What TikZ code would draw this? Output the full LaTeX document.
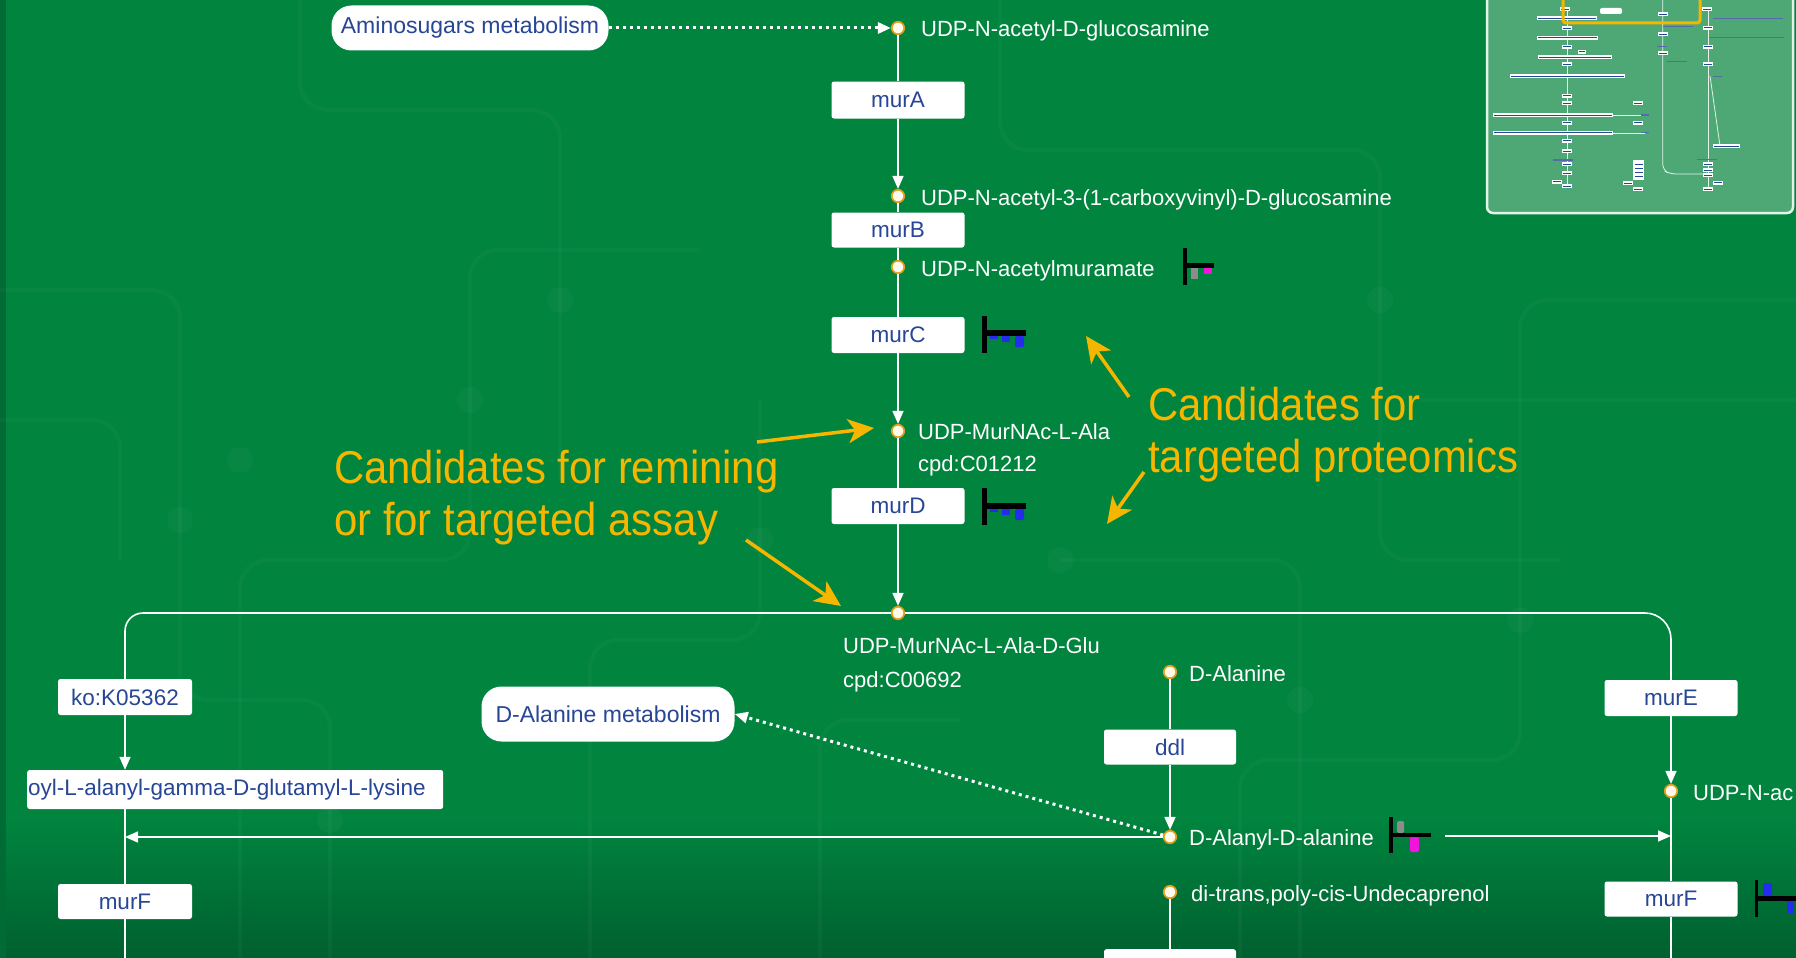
\documentclass[tikz,border=0pt]{standalone}
\usepackage{fontspec}
\setmainfont{Liberation Sans}
\newfontfamily\annfont[FakeStretch=0.91]{Liberation Sans}
\usetikzlibrary{arrows.meta}

\definecolor{bggreen}{RGB}{0,132,62}
\definecolor{bgdark}{RGB}{0,96,48}
\definecolor{labelblue}{RGB}{40,70,150}
\definecolor{annyellow}{RGB}{246,182,0}
\definecolor{dotrim}{RGB}{228,158,30}
\definecolor{dotfill}{RGB}{255,250,235}
\definecolor{thumbgreen}{RGB}{78,168,118}
\definecolor{barblue}{RGB}{35,45,235}
\definecolor{barmag}{RGB}{240,20,220}
\definecolor{bargray}{RGB}{140,140,140}

% miniature overview boxes (coordinates in overview units)
\newcommand{\minibox}[3]{%
  \fill[white] ({1480+(#1-#3/2)/3},{#2/3-2}) rectangle ({1480+(#1+#3/2)/3},{#2/3+2});
  \draw[labelblue,line width=0.9pt] ({1480+(#1-#3/2)/3+1},{#2/3}) -- ({1480+(#1+#3/2)/3-1},{#2/3});}
\newcommand{\minitext}[3]{%
  \draw[labelblue!80!white,line width=1.4pt] ({1480+(#1-#3/2)/3},{#2/3}) -- ({1480+(#1+#3/2)/3},{#2/3});}

\begin{document}
\begin{tikzpicture}[x=1pt,y=-1pt,
  genebox/.style={fill=white, rounded corners=2.5pt, minimum width=133pt,
    minimum height=36pt, inner sep=0pt, text=labelblue,
    font=\fontsize{22.5}{26}\selectfont},
  mapbox/.style={fill=white, rounded corners=20pt, inner sep=0pt,
    text=labelblue, font=\fontsize{23}{27}\selectfont},
  cpd/.style={circle, fill=dotfill, draw=dotrim, line width=1.7pt,
    minimum size=12.5pt, inner sep=0pt},
  cpdlabel/.style={anchor=base west, text=white, inner sep=0pt,
    font=\fontsize{22}{26}\selectfont},
  link/.style={draw=white, line width=1.6pt},
  arrowed/.style={-{Triangle[length=13pt,width=11pt]}},
  dotlink/.style={draw=white, line width=3pt, dash pattern=on 3pt off 4pt},
  ann/.style={anchor=base west, inner sep=0pt, text=annyellow,
    font=\annfont\fontsize{46}{52}\selectfont},
  annarrow/.style={draw=annyellow, line width=3.5pt,
    -{Stealth[length=26pt,width=24pt,inset=7pt]}},
  faint/.style={draw=white, opacity=0.03, line width=4pt, rounded corners=28pt}
]
\useasboundingbox (0,0) rectangle (1796,958);
\begin{scope}
\clip (0,0) rectangle (1796,958);

% ---------- background ----------
\fill[bggreen] (0,0) rectangle (1796,958);
\fill[top color=bggreen, bottom color=bgdark] (0,820) rectangle (1796,958);
\fill[bgdark!70!bggreen] (0,0) rectangle (6,958);

% faint circuit pattern
\draw[faint] (240,958) -- (240,560) -- (470,560) -- (470,250) -- (700,250);
\draw[faint] (300,0) -- (300,110) -- (560,110) -- (560,480);
\draw[faint] (0,290) -- (180,290) -- (180,700) -- (330,700) -- (330,958);
\draw[faint] (590,958) -- (590,640) -- (760,640) -- (760,400);
\draw[faint] (1000,0) -- (1000,150) -- (1380,150) -- (1380,560) -- (1560,560);
\draw[faint] (1240,958) -- (1240,760) -- (1520,760) -- (1520,300) -- (1796,300);
\draw[faint] (1060,560) -- (1300,560) -- (1300,958);
\draw[faint] (820,958) -- (820,720) -- (960,720);
\draw[faint] (0,420) -- (120,420) -- (120,560);
\draw[faint] (1420,400) -- (1796,400);
\foreach \p in {(240,460),(470,400),(560,300),(180,520),(760,540),
                (1380,300),(1520,620),(1300,700),(1060,560),(330,820)}
  \fill[white, opacity=0.03] \p circle (13pt);

% ---------- overview panel ----------
\fill[thumbgreen, rounded corners=6pt] (1487,-10) rectangle (1793,213);
\draw[white!85!thumbgreen, line width=2.5pt, rounded corners=6pt]
  (1487,-10) rectangle (1793,213);
\begin{scope}[white!85!thumbgreen, line width=0.8pt]
  \draw (1567.3,9) -- (1567.3,187);
  \draw[rounded corners=6pt] (1662.7,0) -- (1662.7,170) -- (1670,174) -- (1705,174);
  \draw (1708.3,9) -- (1708.3,190);
  \draw (1710,76) -- (1720,146);
  \draw (1567.3,115) -- (1645,115);
  \draw (1567.3,133) -- (1645,133);
\end{scope}
\minibox{255}{28}{30}   \minibox{548}{43}{30}  \minibox{680}{28}{30}
\fill[white, rounded corners=2pt] (1600,8) rectangle (1622,14);
\minibox{262}{55}{180}  \minitext{805}{55}{210}
\minibox{262}{85}{30}   \minibox{548}{103}{30} \minibox{685}{83}{30}
\minitext{595}{80}{90}
\minibox{262}{113}{185} \minitext{800}{113}{225}
\minibox{262}{140}{30}  \minibox{305}{155}{25} \minibox{548}{160}{30}
\minibox{685}{140}{30}  \minitext{545}{140}{30}
\minibox{285}{172}{220} \minibox{262}{193}{30} \minibox{685}{193}{30}
\minitext{590}{185}{60}
\minibox{262}{229}{345} \minitext{712}{229}{25}
\minibox{262}{287}{30}  \minibox{262}{310}{30} \minibox{475}{310}{30}
\minibox{220}{345}{360} \minitext{495}{345}{25}
\minibox{262}{368}{30}  \minibox{475}{368}{30}
\minibox{220}{398}{360} \minitext{495}{398}{25}
\minibox{262}{422}{30}  \minibox{262}{453}{30}
\minibox{740}{438}{80}
\minitext{250}{480}{60} \minibox{262}{493}{30} \minibox{262}{520}{30}
\minibox{230}{545}{30}  \minibox{262}{558}{30}
\fill[white] (1633.3,160) rectangle (1644,180);
\foreach \yy in {164,168,172,176} \draw[labelblue, line width=0.6pt] (1634.5,\yy) -- (1642.8,\yy);
\minibox{445}{550}{30}  \minibox{475}{568}{30}
\minitext{680}{478}{60} \minibox{685}{493}{30} \minibox{685}{510}{30}
\minibox{685}{525}{30}  \minibox{715}{548}{30} \minibox{685}{568}{30}
\draw[annyellow, line width=3pt, rounded corners=3pt] (1563,-8) rectangle (1700,23);

% ---------- pathway nodes ----------
\node[mapbox, minimum width=277pt, minimum height=45pt] (amino) at (470,28) {Aminosugars metabolism};
\node[cpd] (c1) at (898,28) {};
\node[cpdlabel] (c1l) at (921,37) {UDP-N-acetyl-D-glucosamine};
\node[genebox, minimum height=37pt] (murA) at (898,100) {murA};
\node[cpd] (c2) at (898,196) {};
\node[cpdlabel] (c2l) at (921,205) {UDP-N-acetyl-3-(1-carboxyvinyl)-D-glucosamine};
\node[genebox, minimum height=35pt] (murB) at (898,230) {murB};
\node[cpd] (c3) at (898,267) {};
\node[cpdlabel] (c3l) at (921,276) {UDP-N-acetylmuramate};
\node[genebox] (murC) at (898,335) {murC};
\node[cpd] (c4) at (898,431) {};
\node[cpdlabel] (c4l) at (918,439) {UDP-MurNAc-L-Ala};
\node[cpdlabel] (c4id) at (918,471) {cpd:C01212};
\node[genebox] (murD) at (898,506) {murD};
\node[cpd] (c5) at (898,613) {};
\node[cpdlabel] (c5l) at (843,653) {UDP-MurNAc-L-Ala-D-Glu};
\node[cpdlabel] (c5id) at (843,687) {cpd:C00692};

% left branch
\node[genebox, minimum width=134pt] (ko) at (125,697) {ko:K05362};
\node[genebox, minimum width=416pt, minimum height=39pt, anchor=west] (longbox) at (27,789.5) {};
\node[anchor=west, inner sep=0pt, text=labelblue, font=\fontsize{22.5}{26}\selectfont]
  (longtxt) at (28,789.5) {oyl-L-alanyl-gamma-D-glutamyl-L-lysine};
\node[genebox, minimum width=134pt, minimum height=35pt] (murFL) at (125,901.5) {murF};
\coordinate (leftend) at (125,970);
\coordinate (lefthit) at (125,837);

% D-alanine branch
\node[mapbox, minimum width=253pt, minimum height=55pt] (dmeta) at (608,714) {D-Alanine metabolism};
\node[cpd] (dala) at (1170,672) {};
\node[cpdlabel] (dalal) at (1189,681) {D-Alanine};
\node[genebox, minimum width=132pt, minimum height=35pt] (ddl) at (1170,747) {ddl};
\node[cpd] (dala2) at (1170,837) {};
\node[cpdlabel] (dala2l) at (1189,845) {D-Alanyl-D-alanine};
\node[cpd] (undec) at (1170,892) {};
\node[cpdlabel] (undecl) at (1191,901) {di-trans,poly-cis-Undecaprenol};
\node[genebox, minimum width=132pt, minimum height=32pt, anchor=north] (bot) at (1170,949) {};
\coordinate (rightfrom) at (1445,836);
\coordinate (righthit) at (1671,836);

% right branch
\node[genebox] (murE) at (1671,698) {murE};
\node[cpd] (c6) at (1671,791) {};
\node[cpdlabel] (c6l) at (1693,800) {UDP-N-ac};
\node[genebox, minimum height=35pt] (murFR) at (1671,899) {murF};
\coordinate (rightend) at (1671,970);

% ---------- connectors ----------
\draw[dotlink, arrowed] (amino) -- (c1);
\draw[link] (c1) -- (murA);
\draw[link, arrowed] (murA) -- (c2);
\draw[link] (c2) -- (murB);
\draw[link] (murB) -- (c3);
\draw[link] (c3) -- (murC);
\draw[link, arrowed] (murC) -- (c4);
\draw[link] (c4) -- (murD);
\draw[link, arrowed] (murD) -- (c5);
\draw[link, rounded corners=18pt] (ko.north) |- (c5);
\draw[link, rounded corners=26pt] (c5) -| (murE.north);
\draw[link, arrowed] (ko.south) -- (ko.south |- longbox.north);
\draw[link] (ko.south |- longbox.south) -- (murFL.north);
\draw[link] (murFL) -- (leftend);
\draw[link, arrowed] (dala2) -- (lefthit);
\draw[dotlink, arrowed] (dala2) -- (dmeta.east);
\draw[link] (dala) -- (ddl);
\draw[link, arrowed] (ddl) -- (dala2);
\draw[link] (undec) -- (bot);
\draw[link, arrowed] (rightfrom) -- (righthit);
\draw[link, arrowed] (murE) -- (c6);
\draw[link] (c6) -- (murFR);
\draw[link] (murFR) -- (rightend);

% ---------- expression bars ----------
% UDP-N-acetylmuramate
\fill[black] (1183,248) rectangle (1187,285);
\fill[black] (1183,263) rectangle (1214,268);
\fill[bargray] (1191,268) rectangle (1198,279);
\fill[barmag] (1204,268) rectangle (1212,274);
% murC
\fill[black] (982,316) rectangle (987,353);
\fill[black] (982,330) rectangle (1026,336);
\fill[barblue] (990,336) rectangle (998,339);
\fill[barblue] (1002,336) rectangle (1010,342);
\fill[barblue, rounded corners=1.5pt] (1015,336) -- (1015,347) -- (1024,347) -- (1024,336) -- cycle;
% murD
\fill[black] (982,488) rectangle (987,525);
\fill[black] (982,503) rectangle (1026,509);
\fill[barblue] (990,509) rectangle (998,512);
\fill[barblue] (1002,509) rectangle (1010,515);
\fill[barblue, rounded corners=1.5pt] (1015,509) -- (1015,520) -- (1024,520) -- (1024,509) -- cycle;
% D-Alanyl-D-alanine
\fill[black] (1389,817) rectangle (1393,853);
\fill[black] (1389,833) rectangle (1431,837);
\fill[bargray, rounded corners=1.5pt] (1397,833) -- (1397,821) -- (1404,821) -- (1404,833) -- cycle;
\fill[barmag, rounded corners=2pt] (1410,837) -- (1410,852) -- (1419,852) -- (1419,837) -- cycle;
% murF (right)
\fill[black] (1755,880) rectangle (1758,917);
\fill[black] (1755,896) rectangle (1800,901);
\fill[barblue, rounded corners=1.5pt] (1763,896) -- (1763,883) -- (1772,883) -- (1772,896) -- cycle;
\fill[barblue] (1787,901) rectangle (1794,913);

% ---------- annotations ----------
\node[ann] (remA) at (334,483) {Candidates for remining};
\node[ann] (remB) at (334,535) {or for targeted assay};
\node[ann] (protA) at (1148,420) {Candidates for};
\node[ann] (protB) at (1148,472) {targeted proteomics};
\coordinate (a1s) at (757,442);  \coordinate (a1e) at (874,428);
\coordinate (a2s) at (746,540);  \coordinate (a2e) at (841,606);
\coordinate (a3s) at (1129,397); \coordinate (a3e) at (1086,336);
\coordinate (a4s) at (1144,472); \coordinate (a4e) at (1107,524);
\draw[annarrow] (a1s) -- (a1e);
\draw[annarrow] (a2s) -- (a2e);
\draw[annarrow] (a3s) -- (a3e);
\draw[annarrow] (a4s) -- (a4e);
\end{scope}
\end{tikzpicture}
\end{document}
